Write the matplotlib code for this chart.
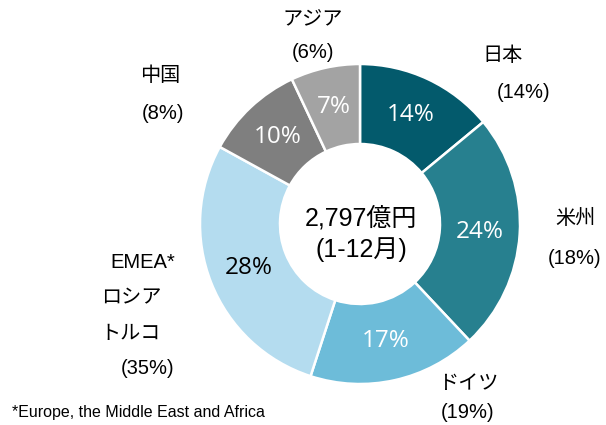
import matplotlib.pyplot as plt

plt.rcParams['font.family'] = ['Liberation Sans', 'Noto Sans CJK JP', 'DejaVu Sans']

# share in this period (%), clockwise from top
regions = ['日本', '米州', 'ドイツ', 'EMEA*\nロシア\nトルコ', '中国', 'アジア']
shares = [14, 24, 17, 28, 10, 7]
# previous share shown in brackets
prev_shares = [14, 18, 19, 35, 8, 6]
colors = ['#035a6c', '#27808f', '#6dbcd9', '#b4dcef', '#7f7f7f', '#a3a3a3']
pct_colors = ['white', 'white', 'white', 'black', 'white', 'white']

total_label = '2,797億円\n(1-12月)'
footnote = '*Europe, the Middle East and Africa'

fig = plt.figure(figsize=(6.06, 4.25), dpi=100)
ax = fig.add_axes([0, 0, 1, 1])

# y axis is inverted below, so counterclock=True runs clockwise on screen
wedges, texts, autotexts = ax.pie(
    shares, colors=colors, startangle=-90, counterclock=True,
    center=(360, 224), radius=160, frame=True,
    autopct='%d%%', pctdistance=0.75,
    wedgeprops=dict(width=80, edgecolor='white', linewidth=1.8),
    textprops=dict(fontsize=17.5, family=['Open Sans', 'DejaVu Sans']))
for t, c in zip(autotexts, pct_colors):
    t.set_color(c)
ax.set_xlim(0, 606)
ax.set_ylim(425, 0)
ax.set_aspect('equal')
ax.axis('off')

# outer labels (name, bracket) positioned by hand
label_pos = [
    ((503, 55), (524, 92)),
    ((575, 218), (575, 258)),
    ((468, 383), (468, 413)),
    (None, (148, 368)),
    ((160, 75), (163, 113)),
    ((313, 20), (313, 52)),
]
for name, prev, (p_name, p_prev) in zip(regions, prev_shares, label_pos):
    if p_name is not None:
        ax.text(*p_name, name, ha='center', va='center', fontsize=14.5)
    ax.text(*p_prev, f'({prev}%)', ha='center', va='center', fontsize=14.5)

# EMEA label lines
ax.text(143, 263, 'EMEA*', ha='center', va='center', fontsize=14.5)
ax.text(131, 298, 'ロシア', ha='center', va='center', fontsize=14.5)
ax.text(131, 333, 'トルコ', ha='center', va='center', fontsize=14.5)

ax.text(361, 234, total_label, ha='center', va='center', fontsize=18,
        linespacing=1.35)
ax.text(12, 413, footnote, ha='left', va='center', fontsize=11.5)

plt.savefig('out.png', dpi=100)
